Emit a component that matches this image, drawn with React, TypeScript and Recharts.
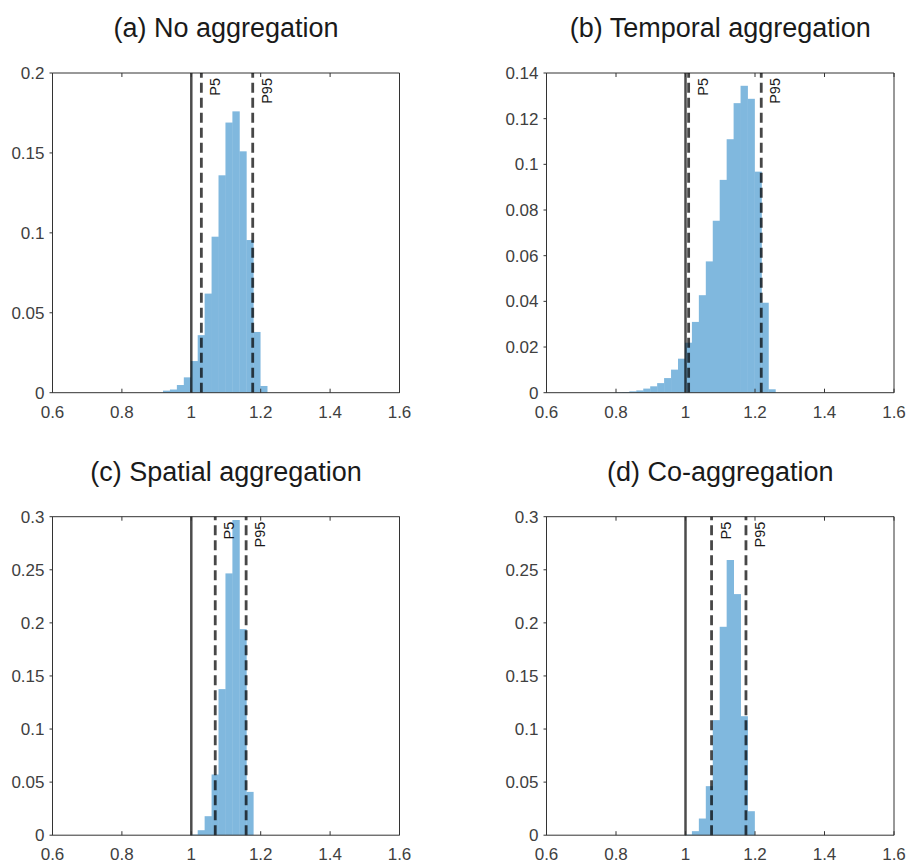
import React from 'react';
import { BarChart, Bar, XAxis, YAxis, ReferenceLine } from 'recharts';

// histogram bin centres (bin width 0.02) and probabilities
const binsA = [0.93, 0.95, 0.97, 0.99, 1.01, 1.03, 1.05, 1.07, 1.09, 1.11, 1.13, 1.15, 1.17, 1.19, 1.21];
const probA = [0.0013, 0.002, 0.0048, 0.0096, 0.0198, 0.036, 0.062, 0.0976, 0.136, 0.169, 0.176, 0.151, 0.0955, 0.038, 0.0042];

const binsB = [0.81, 0.83, 0.85, 0.87, 0.89, 0.91, 0.93, 0.95, 0.97, 0.99, 1.01, 1.03, 1.05, 1.07, 1.09, 1.11, 1.13, 1.15, 1.17, 1.19, 1.21, 1.23, 1.25];
const probB = [0.0002, 0.0003, 0.0006, 0.001, 0.0018, 0.0028, 0.0042, 0.0064, 0.0101, 0.0149, 0.0219, 0.031, 0.0427, 0.0575, 0.0753, 0.0932, 0.111, 0.1268, 0.1344, 0.1287, 0.0968, 0.0394, 0.0015];

const binsC = [1.01, 1.03, 1.05, 1.07, 1.09, 1.11, 1.13, 1.15, 1.17];
const probC = [0.0006, 0.0047, 0.0179, 0.0572, 0.1376, 0.2466, 0.2969, 0.1941, 0.0408];

const binsD = [1.01, 1.03, 1.05, 1.07, 1.09, 1.11, 1.13, 1.15, 1.17, 1.19];
const probD = [0.0006, 0.0038, 0.0157, 0.0462, 0.1084, 0.1963, 0.2592, 0.2271, 0.1121, 0.0226];

// P5 / P95 markers
const pctA = [1.029, 1.177];
const pctB = [1.009, 1.218];
const pctC = [1.069, 1.158];
const pctD = [1.075, 1.174];

const xTicks = [0.6, 0.8, 1, 1.2, 1.4, 1.6];
const yTicksA = [0, 0.05, 0.1, 0.15, 0.2];
const yTicksB = [0, 0.02, 0.04, 0.06, 0.08, 0.1, 0.12, 0.14];
const yTicksC = [0, 0.05, 0.1, 0.15, 0.2, 0.25, 0.3];

const FONT = '"Liberation Sans", Arial, Helvetica, sans-serif';
const BIN_W = 0.02;
const X_MIN = 0.6;
const X_MAX = 1.6;
const AXIS = '#333';
const X_GAP = 13;

const fmt = (v: number) => String(+v.toFixed(3));

interface PanelProps {
  title: string;
  bins: number[];
  probs: number[];
  pct: number[];
  yTicks: number[];
  left: number;
  top: number;
  w: number;
  h: number;
  plotX: number;
  plotY: number;
  plotW: number;
  plotH: number;
}

const Panel: React.FC<PanelProps> = ({ title, bins, probs, pct, yTicks, left, top, w, h, plotX, plotY, plotW, plotH }) => {
  const data = bins.map((b, i) => ({ x: b, p: probs[i] }));
  const yMax = yTicks[yTicks.length - 1];
  const mTop = plotY - top;
  const mRight = left + w - (plotX + plotW);
  const yAxisW = plotX - left;
  const xAxisH = top + h - (plotY + plotH);
  const barPx = (plotW * BIN_W) / (X_MAX - X_MIN);

  // bars touch each other like a histogram
  const HistBar = (props: any) => {
    const { x, y, width, height } = props;
    if (!height || height <= 0) return null;
    const cx = x + width / 2;
    return <rect x={cx - barPx / 2 - 0.2} y={y} width={barPx + 0.4} height={height} fill="#80b8de" />;
  };

  // bottom labels plus inward ticks on bottom and top edges
  const XTick = (props: any) => {
    const { x, y, payload } = props;
    const base = y - X_GAP;
    return (
      <g>
        <line x1={x} x2={x} y1={base} y2={base - 4} stroke={AXIS} />
        <line x1={x} x2={x} y1={base - plotH} y2={base - plotH + 4} stroke={AXIS} />
        <text x={x} y={base + X_GAP} dy="0.71em" textAnchor="middle" fontSize={17} fill="#404040" fontFamily={FONT}>
          {fmt(payload.value)}
        </text>
      </g>
    );
  };

  const pLabel = (text: string) => (props: any) => {
    const vx = props.viewBox ? props.viewBox.x : 0;
    const tx = vx + 19;
    const ty = mTop + 5;
    return (
      <text x={tx} y={ty} transform={`rotate(-90 ${tx} ${ty})`} textAnchor="end"
        fontSize={14.5} fill="#1a1a1a" fontFamily={FONT}>
        {text}
      </text>
    );
  };

  return (
    <>
      <div style={{
        position: 'absolute', left: plotX, top: plotY - 58, width: plotW, textAlign: 'center',
        fontFamily: FONT, fontSize: 27, lineHeight: '27px', color: '#1a1a1a', whiteSpace: 'nowrap',
      }}>
        {title}
      </div>
      <div style={{ position: 'absolute', left, top }}>
        <BarChart width={w} height={h} data={data}
          margin={{ top: mTop, right: mRight, bottom: 0, left: 0 }}>
          <XAxis dataKey="x" type="number" domain={[X_MIN, X_MAX]} ticks={xTicks}
            height={xAxisH} stroke={AXIS} tickLine={false} tickSize={0} tickMargin={X_GAP} interval={0}
            tick={<XTick />} />
          <YAxis domain={[0, yMax]} ticks={yTicks} tickFormatter={fmt} width={yAxisW}
            stroke={AXIS} tickSize={3} tickMargin={5} interval={0}
            tick={{ fontSize: 17, fill: '#404040', fontFamily: FONT }} />
          <Bar dataKey="p" fill="#80b8de" barSize={barPx} shape={<HistBar />} isAnimationActive={false} />
          <ReferenceLine y={yMax} stroke={AXIS} strokeWidth={1} />
          <ReferenceLine x={X_MAX} stroke={AXIS} strokeWidth={1} />
          <ReferenceLine x={1} stroke="#000" strokeOpacity={0.7} strokeWidth={2.5} />
          <ReferenceLine x={pct[0]} stroke="#000" strokeOpacity={0.72} strokeWidth={2.8}
            strokeDasharray="10 5" label={pLabel('P5')} />
          <ReferenceLine x={pct[1]} stroke="#000" strokeOpacity={0.72} strokeWidth={2.8}
            strokeDasharray="10 5" label={pLabel('P95')} />
        </BarChart>
      </div>
    </>
  );
};

export default function App() {
  return (
    <div style={{ position: 'absolute', left: 0, top: 0, width: 908, height: 863, background: '#fff' }}>
      <Panel title="(a) No aggregation" bins={binsA} probs={probA} pct={pctA} yTicks={yTicksA}
        left={0} top={0} w={454} h={432} plotX={52.5} plotY={73} plotW={347} plotH={319.7} />
      <Panel title="(b) Temporal aggregation" bins={binsB} probs={probB} pct={pctB} yTicks={yTicksB}
        left={454} top={0} w={454} h={432} plotX={546.5} plotY={73} plotW={347.5} plotH={319.7} />
      <Panel title="(c) Spatial aggregation" bins={binsC} probs={probC} pct={pctC} yTicks={yTicksC}
        left={0} top={432} w={454} h={431} plotX={52.5} plotY={516.7} plotW={347} plotH={318.5} />
      <Panel title="(d) Co-aggregation" bins={binsD} probs={probD} pct={pctD} yTicks={yTicksC}
        left={454} top={432} w={454} h={431} plotX={546.5} plotY={516.7} plotW={347.5} plotH={318.5} />
    </div>
  );
}
